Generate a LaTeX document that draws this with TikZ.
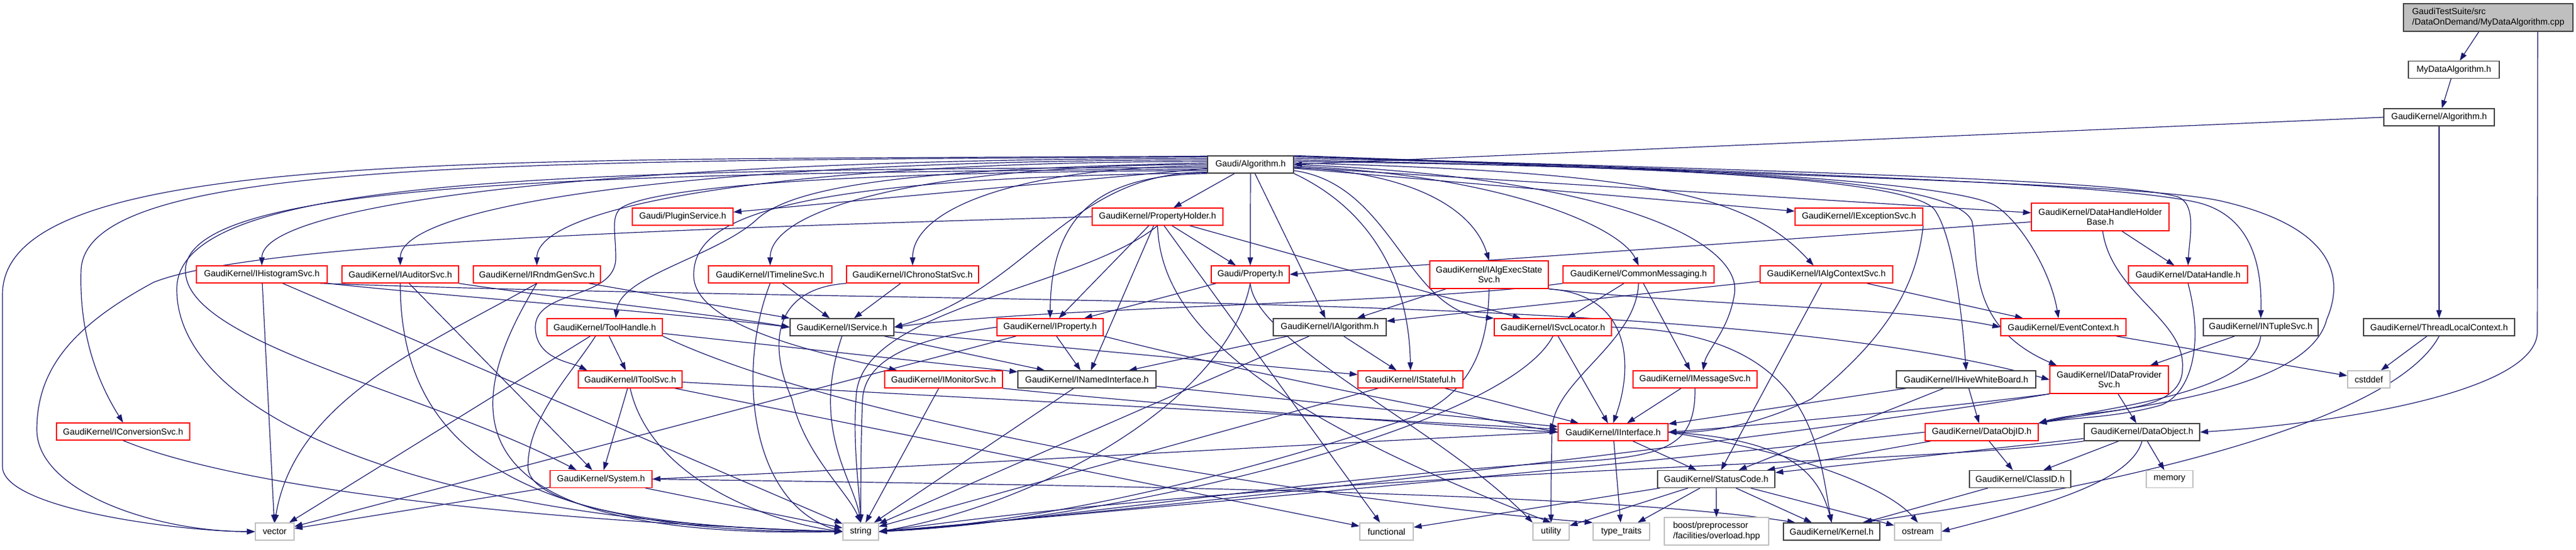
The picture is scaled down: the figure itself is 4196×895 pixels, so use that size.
\documentclass[tikz,border=0pt]{standalone}
\usepackage{fontspec}
\setmainfont{Liberation Sans}
\usetikzlibrary{arrows.meta,calc}
\definecolor{mblue}{HTML}{191970}
\definecolor{kborder}{HTML}{404040}
\definecolor{gborder}{HTML}{BFBFBF}
\definecolor{rborder}{HTML}{FF0000}
\definecolor{startfill}{HTML}{BFBFBF}
\pgfdeclarelayer{edgelayer}
\pgfsetlayers{edgelayer,main}
\newcommand\edgS[2]{\draw[lnk] (#1) -- (#2);}
\newcommand\edgL[2]{\draw[lnk] (#1) .. controls ($(#1)!0.6!(#2|-#1)$) and ($(#2)!0.6!(#2|-#1)$) .. (#2);}
\tikzset{
 bx/.style={rectangle, line width=1.3pt, fill=white, inner sep=0pt, minimum height=28, font=\fontsize{14.3}{16.5}\selectfont, text=black, align=center},
 bk/.style={bx, draw=kborder},
 br/.style={bx, draw=rborder},
 bgr/.style={bx, draw=gborder},
 bs/.style={bx, draw=kborder, fill=startfill},
 lnk/.style={draw=mblue, line width=1.2pt, -{Triangle[length=13pt,width=9pt]}},
}
\begin{document}
\begin{tikzpicture}[x=1pt,y=-1pt]
\useasboundingbox (0,0) rectangle (4196,895);
% nodes
\node[bs, minimum width=276, minimum height=45, align=left] (tsuite) at (4053,28.5) {GaudiTestSuite/src\\/DataOnDemand/MyDataAlgorithm.cpp};
\node[bk, minimum width=148] (mydata) at (3997,113.5) {MyDataAlgorithm.h};
\node[bk, minimum width=180] (gkalg) at (3973,191) {GaudiKernel/Algorithm.h};
\node[bk, minimum width=140] (galg) at (2037,268) {Gaudi/Algorithm.h};
\node[br, minimum width=213] (hist) at (426.5,447) {GaudiKernel/IHistogramSvc.h};
\node[br, minimum width=190] (audit) at (652,447) {GaudiKernel/IAuditorSvc.h};
\node[br, minimum width=207] (rndm) at (874.5,447) {GaudiKernel/IRndmGenSvc.h};
\node[br, minimum width=164] (plugin) at (1112,353) {Gaudi/PluginService.h};
\node[br, minimum width=201] (timeline) at (1254.5,447) {GaudiKernel/ITimelineSvc.h};
\node[br, minimum width=215] (chrono) at (1486.5,447) {GaudiKernel/IChronoStatSvc.h};
\node[br, minimum width=213] (propholder) at (1885.5,353) {GaudiKernel/PropertyHolder.h};
\node[br, minimum width=127] (property) at (2036.5,447) {Gaudi/Property.h};
\node[br, minimum width=193, minimum height=45] (execstate) at (2425.5,447.5) {GaudiKernel/IAlgExecState\\Svc.h};
\node[br, minimum width=246] (commonmsg) at (2669,447) {GaudiKernel/CommonMessaging.h};
\node[br, minimum width=208] (exception) at (3028,353) {GaudiKernel/IExceptionSvc.h};
\node[br, minimum width=216] (algctx) at (2975,447) {GaudiKernel/IAlgContextSvc.h};
\node[br, minimum width=224, minimum height=45] (dhhb) at (3421,353.5) {GaudiKernel/DataHandleHolder\\Base.h};
\node[br, minimum width=194] (datahandle) at (3564,447) {GaudiKernel/DataHandle.h};
\node[br, minimum width=188] (toolhandle) at (985,533) {GaudiKernel/ToolHandle.h};
\node[bk, minimum width=169] (iservice) at (1371.5,533) {GaudiKernel/IService.h};
\node[br, minimum width=173] (iproperty) at (1710.5,533) {GaudiKernel/IProperty.h};
\node[bk, minimum width=184] (ialgorithm) at (2166,533) {GaudiKernel/IAlgorithm.h};
\node[br, minimum width=191] (isvclocator) at (2529.5,533) {GaudiKernel/ISvcLocator.h};
\node[br, minimum width=204] (eventctx) at (3361,533) {GaudiKernel/EventContext.h};
\node[bk, minimum width=187] (ntuple) at (3682.5,533) {GaudiKernel/INTupleSvc.h};
\node[bk, minimum width=246] (tlc) at (3973,533) {GaudiKernel/ThreadLocalContext.h};
\node[br, minimum width=169] (itoolsvc) at (1026.5,618) {GaudiKernel/IToolSvc.h};
\node[br, minimum width=192] (imonitor) at (1537,618) {GaudiKernel/IMonitorSvc.h};
\node[bk, minimum width=225] (inamed) at (1770.5,618) {GaudiKernel/INamedInterface.h};
\node[br, minimum width=171] (istateful) at (2297.5,618) {GaudiKernel/IStateful.h};
\node[br, minimum width=202] (imsgsvc) at (2761,618) {GaudiKernel/IMessageSvc.h};
\node[bk, minimum width=227] (hivewb) at (3202.5,618) {GaudiKernel/IHiveWhiteBoard.h};
\node[br, minimum width=193, minimum height=45] (dataprov) at (3435.5,618.5) {GaudiKernel/IDataProvider\\Svc.h};
\node[bgr, minimum width=69] (cstddef) at (3858.5,618) {cstddef};
\node[br, minimum width=217] (iconv) at (200.5,703) {GaudiKernel/IConversionSvc.h};
\node[br, minimum width=179] (iinterface) at (2627.5,704) {GaudiKernel/IInterface.h};
\node[br, minimum width=184] (dataobjid) at (3228,704) {GaudiKernel/DataObjID.h};
\node[bk, minimum width=188] (dataobject) at (3489,704) {GaudiKernel/DataObject.h};
\node[br, minimum width=166] (system) at (979,780.5) {GaudiKernel/System.h};
\node[bk, minimum width=191] (statuscode) at (2795.5,780.5) {GaudiKernel/StatusCode.h};
\node[bk, minimum width=165] (classid) at (3290.5,780.5) {GaudiKernel/ClassID.h};
\node[bgr, minimum width=76] (memory) at (3534,780.5) {memory};
\node[bgr, minimum width=63] (vector) at (447.5,866) {vector};
\node[bgr, minimum width=58] (string) at (1402,866) {string};
\node[bgr, minimum width=87] (functional) at (2258.5,866) {functional};
\node[bgr, minimum width=59] (utility) at (2526.5,866) {utility};
\node[bgr, minimum width=92] (typetraits) at (2641,866) {type\_traits};
\node[bgr, minimum width=170, minimum height=45, align=left] (boost) at (2796,865.5) {boost/preprocessor\\/facilities/overload.hpp};
\node[bk, minimum width=157] (kernel) at (2983.5,866) {GaudiKernel/Kernel.h};
\node[bgr, minimum width=76] (ostream) at (3124,866) {ostream};

\begin{pgfonlayer}{edgelayer}
\fill[white] (0,0) rectangle (4196,895);
% chain
\edgS{tsuite}{mydata}
\edgS{mydata}{gkalg}
\draw[lnk] (gkalg.west) -- (galg.east);
\edgS{gkalg}{tlc}
\draw[lnk] ($(tsuite.south east)+(-58,0)$) -- (4133,540) .. controls (4133,640) and (3800,690) .. (dataobject.east);
\edgS{tlc}{cstddef}
\draw[lnk] (tlc.south) .. controls (3880,720) and (3250,820) .. ($(kernel.north)+(50,0)$);
% Gaudi/Algorithm.h to the left
\edgL{galg.172}{hist.north}
\edgL{galg.174}{audit.north}
\edgL{galg.176}{rndm.north}
\edgS{galg}{plugin}
\draw[lnk] (galg.178) .. controls (1500,275) and (1290,300) .. (1230,360) .. controls (1160,420) and (1010,450) .. ($(toolhandle.north)+(18,0)$);
\edgL{galg.180}{timeline.north}
\edgL{galg.182}{chrono.north}
\draw[lnk] (galg.170) .. controls (800,262) and (140,262) .. (132,440) .. controls (128,560) and (170,640) .. (iconv.north);
\draw[lnk] (galg.169) .. controls (800,262) and (4,240) .. (4,480) -- (4,760) .. controls (4,830) and (300,866) .. (vector.west);
\draw[lnk] (galg.184) .. controls (900,275) and (290,290) .. (288,470) .. controls (286,680) and (700,850) .. (string.west);
\draw[lnk] (galg.186) .. controls (900,282) and (305,300) .. (302,440) .. controls (300,560) and (700,640) .. ($(system.north)+(-40,0)$);
\draw[lnk] (galg.188) .. controls (1300,280) and (1050,310) .. (1010,340) .. controls (995,355) and (1003,380) .. (1003,420) .. controls (1003,490) and (870,470) .. (872,535) .. controls (874,585) and (930,590) .. ($(itoolsvc.north)+(-70,0)$);
\draw[lnk] (galg.190) .. controls (1740,280) and (1680,470) .. (iservice.east);
\draw[lnk] (galg.191) .. controls (1250,290) and (1128,360) .. (1130,450) .. controls (1132,530) and (1330,575) .. ($(imonitor.north west)+(21,0)$);
\draw[lnk] (galg.south west) .. controls (1800,285) and (1712,340) .. (iproperty.north);
\edgS{galg}{propholder}
\edgS{galg}{property}
% Gaudi/Algorithm.h to the right
\edgS{galg}{ialgorithm}
\draw[lnk] (galg.south east) .. controls (2230,340) and (2295,450) .. (istateful.north);
\draw[lnk] (galg.-8) .. controls (2270,300) and (2290,510) .. (isvclocator.north west);
\draw[lnk] (galg.-4) .. controls (2300,280) and (2400,340) .. (execstate.north);
\draw[lnk] (galg.-2) .. controls (2450,285) and (2640,370) .. (commonmsg.north);
\draw[lnk] (galg.0) .. controls (2650,290) and (2840,400) .. (2825,480) .. controls (2815,540) and (2780,570) .. ($(imsgsvc.north)+(13,0)$);
\edgS{galg}{exception}
\draw[lnk] (galg.2) .. controls (2700,280) and (2850,320) .. ($(algctx.north)+(-21,0)$);
\edgS{galg}{dhhb}
\draw[lnk] (galg.4) .. controls (2700,270) and (3100,290) .. (3150,340) .. controls (3180,380) and (3195,500) .. (hivewb.north);
\draw[lnk] (galg.6) .. controls (2800,275) and (3180,290) .. (3212,360) .. controls (3225,420) and (3200,530) .. ($(dataprov.north west)+(12,0)$);
\draw[lnk] (galg.8) .. controls (2800,270) and (3190,300) .. (3250,335) .. controls (3290,360) and (3340,440) .. ($(eventctx.north)+(-8,0)$);
\draw[lnk] (galg.10) .. controls (3000,280) and (3450,295) .. (3545,320) .. controls (3580,330) and (3566,390) .. (datahandle.north);
\draw[lnk] (galg.12) .. controls (3000,285) and (3450,300) .. (3580,330) .. controls (3660,350) and (3685,420) .. (ntuple.north);
\draw[lnk] (galg.14) .. controls (3000,290) and (3500,300) .. (3620,328) .. controls (3800,370) and (3820,450) .. (3790,520) .. controls (3760,640) and (3450,665) .. (dataobjid.north east);
% second level
\edgS{hist}{vector}
\edgS{hist}{string}
\draw[lnk] (hist.south east) .. controls (700,480) and (1100,510) .. (iservice.west);
\draw[lnk] ($(hist.south east)+(-12,0)$) .. controls (1600,500) and (2800,470) .. (dataprov.west);
\edgS{audit}{system}
\draw[lnk] (audit.south) .. controls (652,700) and (800,870) .. (string.west);
\draw[lnk] (audit.south east) .. controls (900,485) and (1150,510) .. (iservice.west);
\draw[lnk] (rndm.south) .. controls (700,560) and (480,650) .. (vector.north);
\draw[lnk] (rndm.south) .. controls (760,650) and (700,880) .. (string.west);
\edgS{rndm}{iservice}
\edgS{timeline}{iservice}
\draw[lnk] (timeline.south) .. controls (1200,600) and (1220,820) .. (string.west);
\edgS{chrono}{iservice}
\draw[lnk] (chrono.south west) .. controls (1260,470) and (1250,560) .. (1290,650) .. controls (1310,740) and (1380,800) .. (string.north);
\edgS{toolhandle}{itoolsvc}
\draw[lnk] ($(toolhandle.south)+(-15,0)$) .. controls (930,610) and (860,680) .. (860,760) .. controls (860,830) and (1100,860) .. (string.west);
\edgS{toolhandle}{vector}
\edgS{toolhandle}{inamed}
\draw[lnk] (toolhandle.south east) .. controls (1400,700) and (2200,820) .. (typetraits.north west);
\edgS{itoolsvc}{system}
\draw[lnk] (itoolsvc.south) .. controls (1060,780) and (1250,850) .. (string.west);
\edgS{itoolsvc}{iinterface}
\edgS{itoolsvc}{functional}
\draw[lnk] (propholder.west) .. controls (1000,375) and (400,400) .. (250,460) .. controls (120,530) and (60,600) .. (60,700) .. controls (60,800) and (250,866) .. (vector.west);
\draw[lnk] (propholder.south) .. controls (1760,470) and (1410,500) .. (1395,640) .. controls (1388,720) and (1400,800) .. (string.north);
\edgS{propholder}{iproperty}
\edgS{propholder}{inamed}
\edgS{propholder}{property}
\edgS{propholder}{functional}
\edgS{propholder}{isvclocator}
\draw[lnk] (propholder.south) .. controls (1890,500) and (2000,650) .. (utility.north);
\edgS{property}{iproperty}
\draw[lnk] (property.south) .. controls (2000,650) and (1700,820) .. (string.east);
\draw[lnk] (property.south) .. controls (2045,560) and (2350,700) .. (utility.north west);
\edgS{iproperty}{inamed}
\draw[lnk] (iproperty.south east) .. controls (2000,600) and (2300,660) .. (iinterface.west);
\draw[lnk] (iproperty.west) .. controls (1500,550) and (1410,580) .. (1405,650) .. controls (1402,720) and (1402,800) .. (string.north);
\edgS{iproperty}{vector}
\edgS{iservice}{inamed}
\edgS{iservice}{istateful}
\draw[lnk] (iservice.south) .. controls (1320,700) and (1390,780) .. (string.north);
\draw[lnk] (imonitor.south east) .. controls (1900,660) and (2300,690) .. (iinterface.west);
\edgS{imonitor}{string}
\edgS{inamed}{iinterface}
\edgS{inamed}{string}
\edgS{ialgorithm}{istateful}
\edgS{ialgorithm}{inamed}
\edgS{ialgorithm}{string}
\edgS{isvclocator}{iinterface}
\draw[lnk] (isvclocator.south) .. controls (2450,700) and (1800,850) .. (string.east);
\draw[lnk] (isvclocator.east) .. controls (2950,540) and (2960,720) .. (kernel.north);
\edgS{istateful}{iinterface}
\edgS{istateful}{string}
\edgS{imsgsvc}{iinterface}
\draw[lnk] (imsgsvc.south) .. controls (2762,720) and (2720,740) .. (2600,750) .. controls (2200,770) and (1700,850) .. (string.east);
\edgS{execstate}{ialgorithm}
\draw[lnk] (execstate.south east) .. controls (2660,480) and (2660,600) .. (iinterface.north);
\draw[lnk] (execstate.south) .. controls (2424,560) and (2400,640) .. (2300,680) .. controls (2000,780) and (1700,850) .. (string.east);
\draw[lnk] (execstate.south east) .. controls (2800,500) and (3100,500) .. (eventctx.west);
\edgS{commonmsg}{imsgsvc}
\edgS{commonmsg}{isvclocator}
\draw[lnk] (commonmsg.south) .. controls (2665,560) and (2530,620) .. (2528,700) .. controls (2527,760) and (2526,800) .. (utility.north);
\draw[lnk] (commonmsg.south west) .. controls (2300,495) and (1700,500) .. (iservice.east);
\draw[lnk] (exception.south east) .. controls (3120,480) and (3060,560) .. (2950,650) .. controls (2850,700) and (2760,705) .. (iinterface.east);
\edgS{algctx}{ialgorithm}
\edgS{algctx}{statuscode}
\edgS{algctx}{eventctx}
\draw[lnk] ($(dhhb.west)+(0,8)$) -- (property.east);
\edgS{dhhb}{datahandle}
\draw[lnk] ($(dhhb.south)+(4,0)$) .. controls (3440,480) and (3560,520) .. (3555,600) .. controls (3555,680) and (3400,665) .. (dataobjid.north east);
\draw[lnk] (datahandle.south) .. controls (3590,560) and (3570,640) .. (3520,660) .. controls (3450,680) and (3380,680) .. (dataobjid.north east);
\edgS{ntuple}{dataprov}
\draw[lnk] (ntuple.south) .. controls (3670,640) and (3450,660) .. (dataobjid.north east);
\edgS{hivewb}{dataobjid}
\edgS{hivewb}{iinterface}
\edgS{hivewb}{statuscode}
\edgS{eventctx}{cstddef}
\edgS{dataprov}{dataobject}
\draw[lnk] (dataprov.south west) .. controls (3200,660) and (2900,690) .. (iinterface.east);
\draw[lnk] (dataprov.south west) .. controls (3000,700) and (2000,820) .. (string.east);
\draw[lnk] (iinterface.west) .. controls (2200,720) and (1500,760) .. (system.east);
\edgS{iinterface}{statuscode}
\edgS{iinterface}{typetraits}
\draw[lnk] (iinterface.east) .. controls (2900,715) and (2960,760) .. (kernel.north);
\draw[lnk] (iinterface.east) .. controls (2950,740) and (3080,800) .. (ostream.north);
\edgS{system}{string}
\edgS{system}{vector}
\draw[lnk] (system.east) .. controls (1700,790) and (2600,800) .. ($(kernel.north west)+(20,0)$);
\edgS{statuscode}{functional}
\edgS{statuscode}{utility}
\edgS{statuscode}{typetraits}
\edgS{statuscode}{boost}
\edgS{statuscode}{kernel}
\edgS{statuscode}{ostream}
\edgS{classid}{kernel}
\edgS{dataobjid}{classid}
\edgS{dataobjid}{statuscode}
\draw[lnk] (dataobjid.west) .. controls (2900,730) and (2200,800) .. (string.east);
\edgS{dataobject}{classid}
\edgS{dataobject}{memory}
\draw[lnk] (dataobject.south) .. controls (3470,790) and (3300,830) .. (ostream.east);
\edgS{dataobject}{statuscode}
\draw[lnk] (dataobject.south west) .. controls (3100,760) and (2200,760) .. (string.east);
\draw[lnk] (iconv.south) .. controls (400,800) and (900,850) .. (string.west);
\end{pgfonlayer}
\end{tikzpicture}
\end{document}
